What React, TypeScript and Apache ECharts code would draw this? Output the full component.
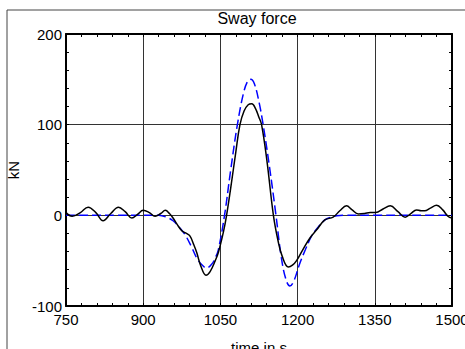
import React, { useEffect, useRef } from "react";
import * as echarts from "echarts";

// Sway force time series: measured (black) and model (blue dashed)
const measuredTime = [
  750, 762, 778, 793, 808, 822, 837, 852, 865, 878, 889, 900, 912, 923, 934, 943, 951, 958, 966, 975,
  984, 991, 998, 1004, 1012, 1022, 1030, 1040, 1046, 1056, 1062, 1070, 1080, 1088, 1096, 1104, 1111, 1118,
  1125, 1130, 1140, 1153, 1162, 1170, 1182, 1190, 1198, 1210, 1224, 1237, 1253, 1269, 1282, 1295, 1306,
  1318, 1330, 1341, 1352, 1366, 1380, 1395, 1409, 1420, 1431, 1440, 1447, 1458, 1470, 1482, 1492, 1500,
];
const measuredForce = [
  3, -1, 3, 9, 3, -6, 2, 9, 4, -3, 1, 5.5, 3, -1, 2, 5.5, 2, -3, -10, -17,
  -20, -23, -32, -41, -56, -66, -62, -50, -41, -18, 0, 30, 70, 100, 115, 122, 123, 118,
  108, 100, 62, 0, -28, -45, -57, -55, -50, -38, -25, -16, -5, -2, 5, 10.5, 6,
  1.5, 2, 3, 3, 7, 10.5, 4, -2, 2, 6, 5, 5, 8, 11, 6, -1, -3,
];

const modelTime = [
  750, 800, 850, 900, 930, 945, 958, 970, 981, 994, 1005, 1015, 1023, 1033, 1040, 1046, 1058, 1070,
  1083, 1095, 1103, 1109, 1116, 1125, 1133, 1145, 1158, 1168, 1177, 1185, 1193, 1203, 1215, 1227,
  1237, 1253, 1265, 1276, 1290, 1350, 1400, 1450, 1500,
];
const modelForce = [
  0, 0, 0, 0, 0, -2, -6, -13, -21, -35, -48, -55, -58, -54, -47, -38, 0, 50,
  100, 135, 148, 150, 145, 125, 100, 55, 0, -45, -70, -78, -72, -55, -38, -23,
  -15, -5, -2, -0.5, 0, 0, 0, 0, 0,
];

const xTicks = [750, 900, 1050, 1200, 1350, 1500];
const yTicks = [-100, 0, 100, 200];

const FONT = "'Liberation Sans', Arial, sans-serif";

export default function App() {
  const ref = useRef<HTMLDivElement>(null);

  useEffect(() => {
    if (!ref.current) return;
    const chart = echarts.init(ref.current, null, { renderer: "svg" });

    const pairs = (xs: number[], ys: number[]) => xs.map((x, i) => [x, ys[i]]);
    const plain = (v: number) => String(v);

    const baseMinor = { show: true, splitNumber: 5, length: 3, lineStyle: { color: "#000", width: 1 } };

    chart.setOption({
      animation: false,
      backgroundColor: "#fff",
      textStyle: { fontFamily: FONT },
      grid: {
        left: 66,
        right: 13,
        top: 34,
        bottom: 43,
        containLabel: false,
        outerBoundsMode: "none",
      },
      graphic: [
        {
          type: "rect",
          shape: { x: 7, y: 10, width: 480, height: 360 },
          style: { fill: "none", stroke: "#444", lineWidth: 1 },
          silent: true,
          z: -10,
        },
        {
          type: "text",
          x: 257,
          y: 18,
          style: {
            text: "Sway force",
            fontFamily: FONT,
            fontSize: 16,
            fill: "#000",
            textAlign: "center",
            textVerticalAlign: "middle",
          },
        },
      ],
      xAxis: [
        {
          type: "value",
          min: xTicks[0],
          max: xTicks[xTicks.length - 1],
          interval: 150,
          name: "time in s",
          nameLocation: "middle",
          nameGap: 34,
          nameTextStyle: { fontFamily: FONT, fontSize: 15, color: "#000", verticalAlign: "top" },
          axisLine: { show: true, onZero: false, lineStyle: { color: "#000", width: 2 } },
          axisTick: { show: true, inside: true, length: 3, lineStyle: { color: "#000" } },
          minorTick: baseMinor,
          axisLabel: { fontFamily: FONT, fontSize: 15, color: "#000", margin: 6, formatter: plain },
          splitLine: { show: true, lineStyle: { color: "#333", width: 1 } },
        },
        {
          type: "value",
          position: "top",
          min: xTicks[0],
          max: xTicks[xTicks.length - 1],
          interval: 150,
          axisLine: { show: true, onZero: false, lineStyle: { color: "#000", width: 2 } },
          axisTick: { show: true, inside: true, length: 3, lineStyle: { color: "#000" } },
          minorTick: baseMinor,
          axisLabel: { show: false },
          splitLine: { show: false },
        },
      ],
      yAxis: [
        {
          type: "value",
          min: yTicks[0],
          max: yTicks[yTicks.length - 1],
          interval: 100,
          name: "kN",
          nameLocation: "middle",
          nameGap: 42,
          nameRotate: 90,
          nameTextStyle: { fontFamily: FONT, fontSize: 15, color: "#000" },
          axisLine: { show: true, onZero: false, lineStyle: { color: "#000", width: 2 } },
          axisTick: { show: true, inside: true, length: 3, lineStyle: { color: "#000" } },
          minorTick: baseMinor,
          axisLabel: { fontFamily: FONT, fontSize: 15, color: "#000", margin: 4, formatter: plain },
          splitLine: { show: true, lineStyle: { color: "#333", width: 1 } },
        },
        {
          type: "value",
          position: "right",
          min: yTicks[0],
          max: yTicks[yTicks.length - 1],
          interval: 100,
          axisLine: { show: true, onZero: false, lineStyle: { color: "#000", width: 2 } },
          axisTick: { show: true, inside: true, length: 3, lineStyle: { color: "#000" } },
          minorTick: baseMinor,
          axisLabel: { show: false },
          splitLine: { show: false },
        },
      ],
      series: [
        {
          type: "line",
          name: "model",
          data: pairs(modelTime, modelForce),
          smooth: 0.4,
          showSymbol: false,
          lineStyle: { color: "#0000ff", width: 1.5, type: [9, 4] },
          z: 3,
        },
        {
          type: "line",
          name: "measured",
          data: pairs(measuredTime, measuredForce),
          smooth: 0.4,
          showSymbol: false,
          lineStyle: { color: "#000", width: 1.5 },
          z: 4,
        },
      ],
    });

    return () => chart.dispose();
  }, []);

  return (
    <div
      ref={ref}
      style={{ position: "fixed", left: 0, top: 0, width: 465, height: 349 }}
    />
  );
}
